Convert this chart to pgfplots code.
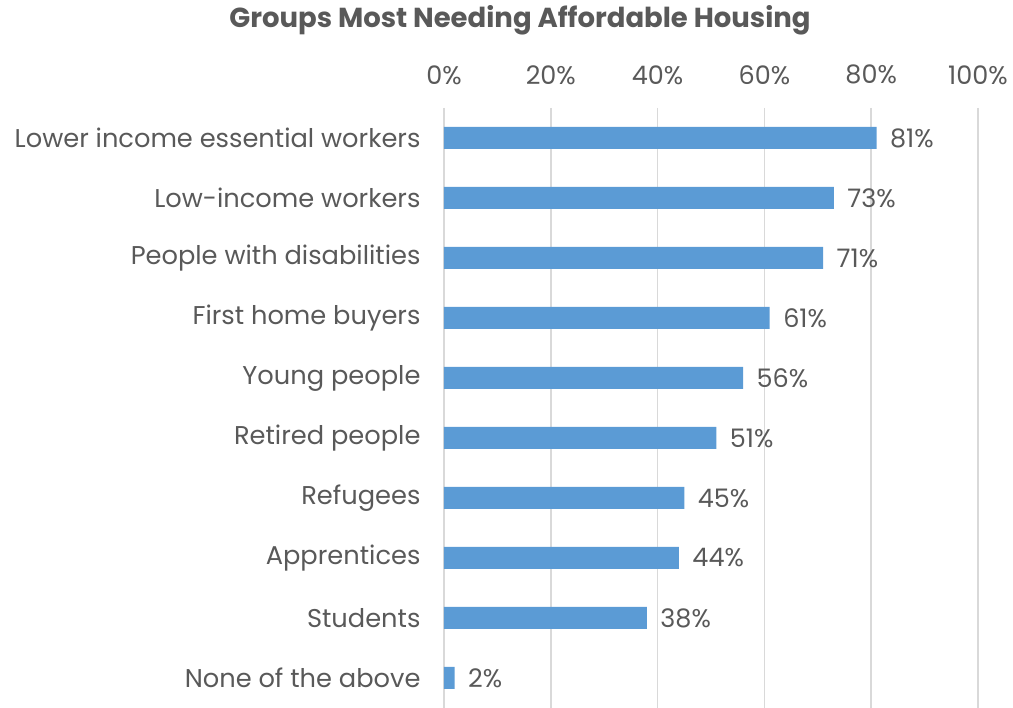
\documentclass[border=0pt]{standalone}
\usepackage{pgfplots}
\pgfplotsset{compat=1.18}
\usepackage{fontspec}
\setmainfont{Poppins}
\definecolor{txt}{HTML}{595959}
\definecolor{barc}{HTML}{5B9BD5}
\definecolor{gridc}{HTML}{D9D9D9}
\begin{document}
\begin{tikzpicture}
\begin{axis}[
  at={(0pt,0pt)}, anchor=south west,
  scale only axis, width=534pt, height=600pt,
  xbar, bar width=22pt,
  xmin=0, xmax=100, ymin=0.5, ymax=10.5, y dir=reverse,
  /pgf/number format/assume math mode=true,
  xtick={0,20,40,60,80,100},
  xticklabels={0\%,20\%,40\%,60\%,80\%,100\%},
  xticklabel pos=upper,
  x tick label style={font=\fontsize{25.5}{30}\selectfont, text=txt, yshift=20pt},
  ytick={1,...,10},
  yticklabels={Lower income essential workers,Low-income workers,People with disabilities,First home buyers,Young people,Retired people,Refugees,Apprentices,Students,None of the above},
  y tick label style={font=\fontsize{25.7}{30}\selectfont, text=txt, xshift=-20pt},
  major tick length=0pt,
  axis line style={draw=none},
  xmajorgrids, grid style={gridc, line width=1.5pt},
  nodes near coords={\pgfmathprintnumber{\pgfplotspointmeta}\%},
  nodes near coords style={font=\fontsize{25.5}{30}\selectfont, text=txt, anchor=west, xshift=10pt},
  point meta=x,
  clip=false,
]
\addplot[fill=barc, draw=none] coordinates {
(81,1) (73,2) (71,3) (61,4) (56,5) (51,6) (45,7) (44,8) (38,9) (2,10)};
\end{axis}
\node[font=\bfseries\fontsize{27.5}{32}\selectfont, text=txt] at (76pt,688pt) {Groups Most Needing Affordable Housing};
\pgfresetboundingbox
\useasboundingbox (-444pt,0pt) rectangle (569pt,708pt);
\end{tikzpicture}
\end{document}
